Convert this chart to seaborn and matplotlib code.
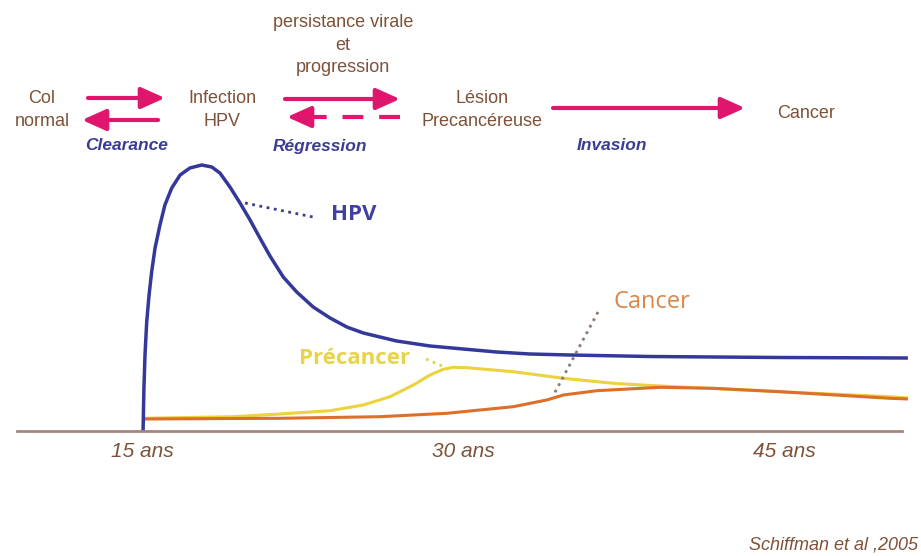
import matplotlib
matplotlib.use("Agg")
import matplotlib.pyplot as plt
import seaborn as sns

hpv_age = [15.05, 15.09, 15.14, 15.22, 15.33, 15.45, 15.61, 15.84, 16.07, 16.39,
           16.78, 17.24, 17.79, 18.26, 18.64, 19.11, 19.58, 20.05, 20.51, 20.98,
           21.60, 22.23, 23.00, 23.79, 24.57, 25.34, 26.90, 28.46, 30.01, 31.57,
           33.13, 35.0, 38.74, 44.81, 50.79]
hpv_val = [0, 43, 76, 109, 136, 159, 183, 206, 226, 243,
           256, 263, 266, 264, 258, 244, 228, 211, 193, 175,
           154, 139, 124, 113, 104, 98, 90, 85, 82, 79,
           77, 76, 74.5, 73.5, 73]

pre_age = [15.06, 19.27, 21.45, 23.79, 25.34, 26.59, 27.68, 28.46, 29.08, 29.55,
           30.17, 32.35, 34.69, 37.02, 39.21, 44.81, 49.95, 50.79]
pre_val = [12.7, 14.3, 17, 20.3, 26, 34.3, 46, 56, 61.7, 63.7,
           63.3, 59.3, 52.7, 47.7, 45, 39.3, 34.3, 33]

can_age = [15.06, 21.45, 26.12, 29.24, 32.35, 33.91, 34.69, 36.25, 39.21, 41.70,
           44.81, 49.95, 50.79]
can_val = [12, 12.7, 14.3, 17.7, 24.3, 31, 36, 40.3, 43.7, 42.7,
           39.3, 32.7, 32]

tick_ages = [15, 30, 45]
tick_labels = ["15 ans", "30 ans", "45 ans"]

brown = "#7d5238"
navy = "#3c3d92"
magenta = "#e0166c"

sns.set_style("white")
plt.rcParams["font.family"] = ["Liberation Sans", "DejaVu Sans"]

fig = plt.figure(figsize=(9.21, 5.56), dpi=100)
ax = fig.add_axes([17 / 921, 125 / 556, 885 / 921, 431 / 556])

sns.lineplot(x=pre_age, y=pre_val, ax=ax, color="#ebd23e", lw=2.2)
sns.lineplot(x=can_age, y=can_val, ax=ax, color="#dc6f2a", lw=2.2)
sns.lineplot(x=hpv_age, y=hpv_val, ax=ax, color="#33389a", lw=2.5)
for ln in ax.lines:
    ln.set_clip_on(False)
    ln.set_solid_capstyle("butt")
    ln.set_solid_joinstyle("round")

ax.set_xlim(9.159, 50.514)
ax.set_ylim(0, 431)
for s in ["top", "right", "left"]:
    ax.spines[s].set_visible(False)
ax.spines["bottom"].set_color("#a08880")
ax.spines["bottom"].set_linewidth(2)
ax.set_yticks([])
ax.set_xticks(tick_ages)
ax.set_xticklabels(tick_labels, fontsize=15, style="italic", color=brown)
ax.tick_params(axis="x", length=0, pad=8)
ax.set_xlabel("")
ax.set_ylabel("")

# overlay in pixel units for the annotations
ov = fig.add_axes([0, 0, 1, 1], facecolor="none")
ov.set_xlim(0, 921)
ov.set_ylim(556, 0)
ov.axis("off")

kw = dict(ha="center", va="center", fontsize=13, color=brown, linespacing=1.45)
ov.text(42, 110, "Col\nnormal", **kw)
ov.text(222, 110, "Infection\nHPV", **kw)
ov.text(343, 45, "persistance virale\net\nprogression", **kw)
ov.text(482, 110, "Lésion\nPrecancéreuse", **kw)
ov.text(806, 113, "Cancer", **kw)

ikw = dict(ha="center", va="center", fontsize=12.5, color=navy,
           style="italic", weight="bold")
ov.text(127, 145, "Clearance", **ikw)
ov.text(320, 147, "Régression", **ikw)
ov.text(612, 145, "Invasion", **ikw)

head = "-|>,head_length=1.45,head_width=0.65"


def arrow(x0, x1, y):
    ov.annotate("", xy=(x1, y), xytext=(x0, y),
                arrowprops=dict(arrowstyle=head, color=magenta, lw=3,
                                shrinkA=0, shrinkB=0))


arrow(88, 165, 98)
arrow(158, 82, 120)
arrow(285, 400, 99)
arrow(305, 287, 117)
ov.plot([400, 303], [117, 117], color=magenta, lw=3, ls=(0, (5, 3.8)),
        solid_capstyle="butt", dash_capstyle="butt")
arrow(553, 745, 108)

# curve labels with dotted leaders
lab = ["Open Sans", "DejaVu Sans"]
ov.plot([245, 313], [203, 217], ls=":", color=navy, lw=2)
ov.text(354, 215, "HPV", ha="center", va="center", fontsize=16,
        weight="bold", color="#3f40a0", family=lab)
ov.plot([426, 442], [359, 366], ls=":", color="#e5d04a", lw=2)
ov.text(355, 358, "Précancer", ha="center", va="center", fontsize=16,
        weight="bold", color="#e8d44a", family=lab)
ov.plot([598, 553], [312, 396], ls=":", color="#8a7a70", lw=2)
ov.text(652, 302, "Cancer", ha="center", va="center", fontsize=17,
        color="#d8864a", family=lab)

ov.text(918, 545, "Schiffman et al ,2005", ha="right", va="center",
        fontsize=13, style="italic", color=brown)

fig.savefig("out.png", dpi=100)
